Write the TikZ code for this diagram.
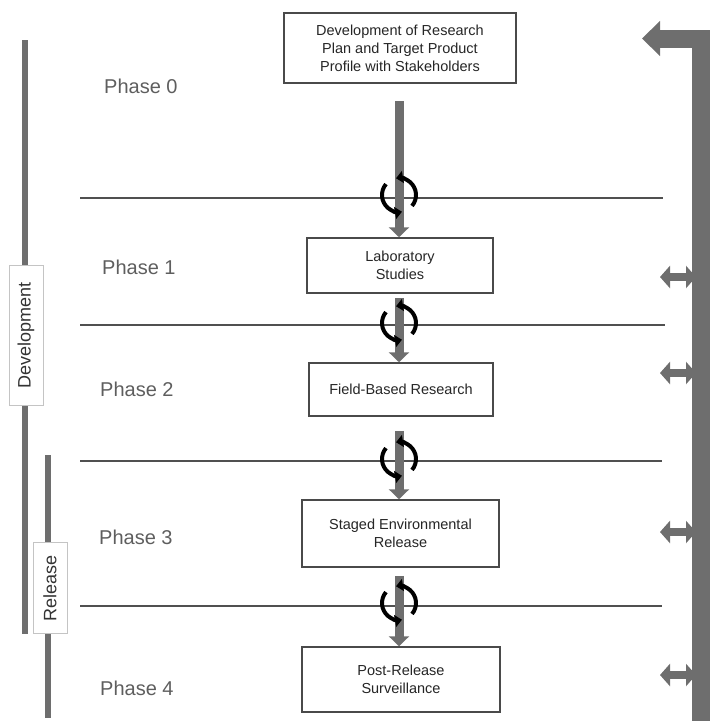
\documentclass[tikz,border=0pt]{standalone}
\usepackage{fontspec}
\setmainfont{Liberation Sans}
\usetikzlibrary{arrows.meta}
\definecolor{bargray}{HTML}{6E6E6E}
\definecolor{boxline}{HTML}{4A4A4A}
\definecolor{phasegray}{HTML}{5E5E5E}
\definecolor{sepline}{HTML}{505050}
\definecolor{labelline}{HTML}{C4C4C4}
\tikzset{
  stagebox/.style={draw=boxline, line width=1.5pt, fill=white, align=center, inner sep=0pt,
    font=\fontsize{14.5}{18}\selectfont, text=black!85},
  phaselabel/.style={anchor=west, inner sep=0pt, text=phasegray, font=\fontsize{20}{24}\selectfont},
  sep/.style={draw=sepline, line width=1.3pt},
  flowarrow/.style={draw=bargray, line width=9pt, -{Triangle[width=20pt,length=10pt]}},
  sidearrow/.style={draw=bargray, line width=8pt, {Triangle[width=22pt,length=10pt]}-{Triangle[width=22pt,length=10pt]}},
  cyclearc/.style={draw=black, line width=4pt, -{Triangle[length=7pt,width=12pt]}},
  sidebar/.style={draw=bargray, line width=6pt},
  grouplabel/.style={draw=labelline, line width=1pt, fill=white, rotate=90, inner sep=0pt,
    text=black!80, font=\fontsize{18}{20}\selectfont, minimum height=34pt}
}
\begin{document}
\begin{tikzpicture}[x=1pt,y=-1pt]
\useasboundingbox (0,0) rectangle (719,721);

% separator lines
\draw[sep] (80,198) -- (663,198);
\draw[sep] (80,325) -- (665,325);
\draw[sep] (80,461) -- (662,461);
\draw[sep] (80,606) -- (662,606);

% left bars
\draw[sidebar] (25,40) -- (25,634);
\draw[sidebar] (48,455) -- (48,718);
\node[grouplabel, minimum width=140pt] (dev) at (26,335) {Development};
\node[grouplabel, minimum width=91pt] (rel) at (50,588) {Release};

% phase labels
\node[phaselabel] (p0) at (104,86) {Phase 0};
\node[phaselabel] (p1) at (102,267) {Phase 1};
\node[phaselabel] (p2) at (100,389) {Phase 2};
\node[phaselabel] (p3) at (99,537) {Phase 3};
\node[phaselabel] (p4) at (100,688) {Phase 4};

% stage boxes
\node[stagebox, minimum width=232pt, minimum height=70pt, line width=2pt] (top) at (400,48)
  {Development of Research\\Plan and Target Product\\Profile with Stakeholders};
\node[stagebox, minimum width=186pt, minimum height=55pt] (lab) at (400,265.5) {Laboratory\\Studies};
\node[stagebox, minimum width=184pt, minimum height=53pt] (field) at (401,389.5) {Field-Based Research};
\node[stagebox, minimum width=197pt, minimum height=67pt] (staged) at (400.5,533.5) {Staged Environmental\\Release};
\node[stagebox, minimum width=198pt, minimum height=65pt] (post) at (401,679.5) {Post-Release\\Surveillance};

% centres of the cycle icons
\coordinate (c1) at (399,195);
\coordinate (c2) at (399,323);
\coordinate (c3) at (399,459);
\coordinate (c4) at (399,603);

% flow arrows
\draw[flowarrow] ([yshift=-17pt]top.south -| c1) -- (lab.north -| c1);
\draw[flowarrow] ([yshift=-4pt]lab.south -| c2) -- (field.north -| c2);
\draw[flowarrow] ([yshift=-14pt]field.south -| c3) -- (staged.north -| c3);
\draw[flowarrow] ([yshift=-8pt]staged.south -| c4) -- (post.north -| c4);

% cycle icons (on top of the flow arrows)
\foreach \n in {c1,c2,c3,c4}{
  \begin{scope}[shift={(\n)}]
    \draw[cyclearc] (-40:17pt) arc[start angle=-40, end angle=100, radius=17pt];
    \draw[cyclearc] (140:17pt) arc[start angle=140, end angle=280, radius=17pt];
  \end{scope}
}

% right feedback bar
\coordinate (rb) at (701,721);
\coordinate (rt) at (701,38.5);
\coordinate (rtip) at (642,38.5);
\draw[draw=bargray, line width=18pt, line join=miter, -{Triangle[width=34pt,length=18pt]}] (rb) -- (rt) -- (rtip);

% side double arrows
\foreach \n/\sy in {s1/277, s2/373, s3/532, s4/675}{
  \coordinate (\n a) at (660,\sy);
  \coordinate (\n b) at (696,\sy);
  \draw[sidearrow] (\n a) -- (\n b);
}
\end{tikzpicture}
\end{document}
